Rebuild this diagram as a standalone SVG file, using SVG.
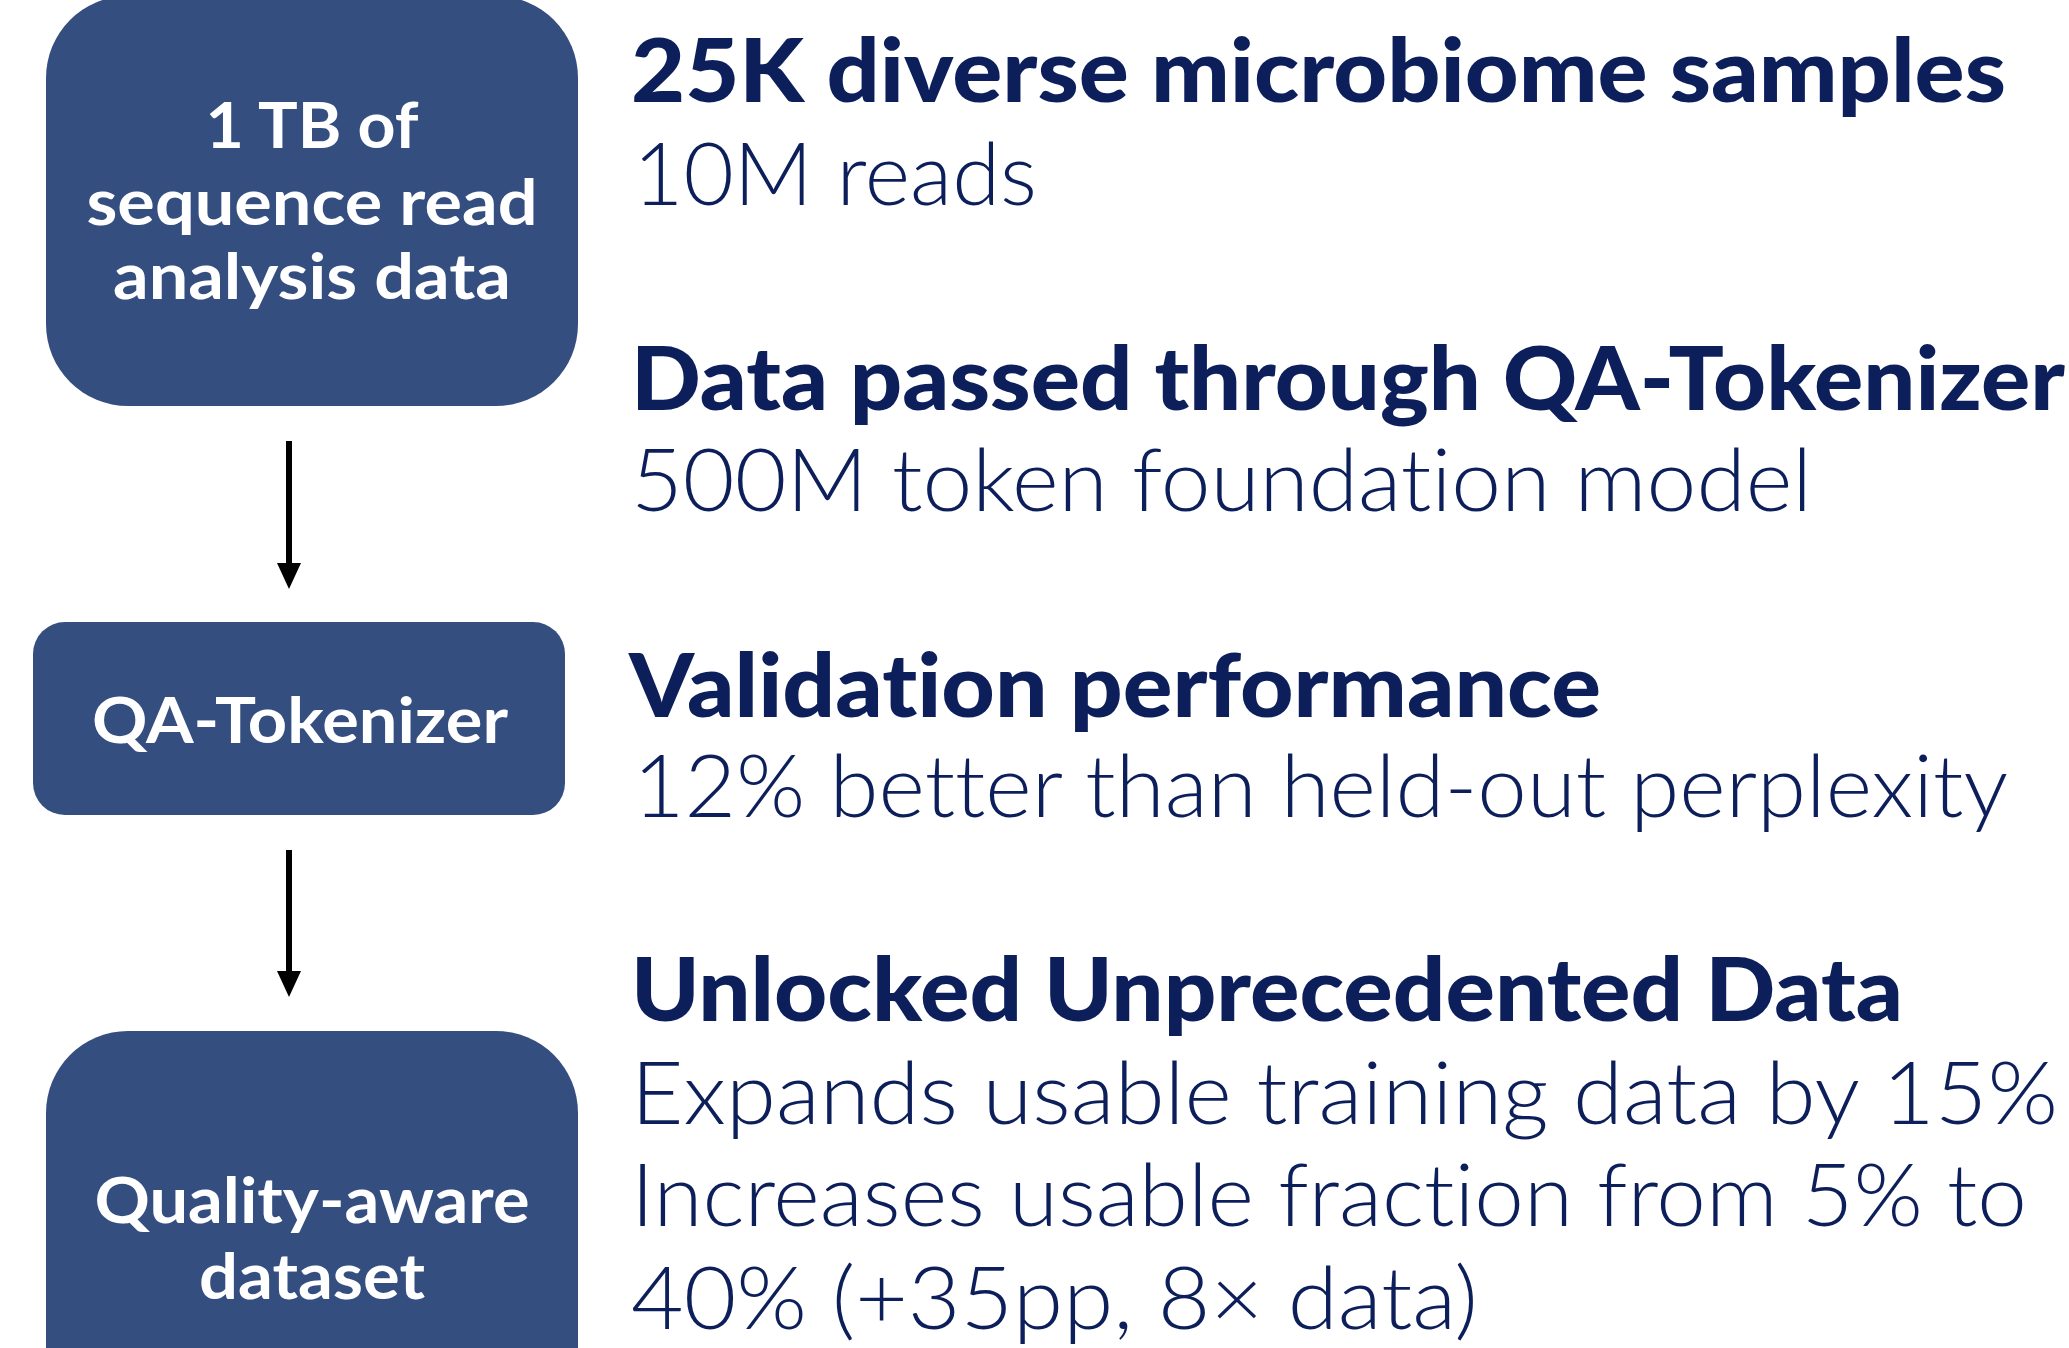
<svg xmlns="http://www.w3.org/2000/svg" width="2069" height="1348" viewBox="0 0 2069 1348">
  <style>
    text { font-variant-ligatures: none; font-feature-settings: "liga" 0, "clig" 0; }
    .box { fill: #344e80; }
    .boxtxt { fill: #ffffff; font-family: "Lato", "Open Sans", "Liberation Sans", sans-serif; font-weight: 700; font-size: 64px; text-anchor: middle; }
    .head { fill: #0c1f5b; font-family: "Lato", "Liberation Sans", sans-serif; font-weight: 900; font-size: 88px; }
    .sub { fill: #0c1f5b; font-family: "Lato", "Liberation Sans", sans-serif; font-weight: 300; font-size: 86px; }
    .conn { stroke: #000000; stroke-width: 6; fill: none; }
    .head-tip { fill: #000000; }
  </style>

  <rect width="2069" height="1348" fill="#ffffff"/>

  <!-- pipeline boxes -->
  <g id="node-raw-data">
    <rect class="box" x="46" y="-4" width="532" height="410" rx="82" ry="82"/>
    <text class="boxtxt" x="312" y="148" textLength="213" lengthAdjust="spacingAndGlyphs">1 TB of</text>
    <text class="boxtxt" x="312" y="225" textLength="451" lengthAdjust="spacingAndGlyphs">sequence read</text>
    <text class="boxtxt" x="312" y="299" textLength="398" lengthAdjust="spacingAndGlyphs">analysis data</text>
  </g>

  <g id="node-tokenizer">
    <rect class="box" x="33" y="622" width="532" height="193" rx="32" ry="32"/>
    <text class="boxtxt" x="300" y="743" textLength="416" lengthAdjust="spacingAndGlyphs">QA-Tokenizer</text>
  </g>

  <g id="node-dataset">
    <rect class="box" x="46" y="1031" width="532" height="420" rx="82" ry="82"/>
    <text class="boxtxt" x="312" y="1223" textLength="435" lengthAdjust="spacingAndGlyphs">Quality-aware</text>
    <text class="boxtxt" x="312" y="1299" textLength="226" lengthAdjust="spacingAndGlyphs">dataset</text>
  </g>

  <!-- connectors -->
  <g id="connectors">
    <path class="conn" d="M289,441 V566"/>
    <polygon class="head-tip" points="277,563 301,563 289,589"/>
    <path class="conn" d="M289,850 V974"/>
    <polygon class="head-tip" points="277,971 301,971 289,997"/>
  </g>

  <!-- key figures -->
  <g id="stat-samples">
    <text class="head" x="631" y="102" textLength="1375" lengthAdjust="spacingAndGlyphs">25K diverse microbiome samples</text>
    <text class="sub" x="633" y="205" textLength="404" lengthAdjust="spacingAndGlyphs">10M reads</text>
  </g>
  <g id="stat-tokenizer">
    <text class="head" x="631" y="410" textLength="1434" lengthAdjust="spacingAndGlyphs">Data passed through QA-Tokenizer</text>
    <text class="sub" x="631" y="511" textLength="1181" lengthAdjust="spacingAndGlyphs">500M token foundation model</text>
  </g>
  <g id="stat-validation">
    <text class="head" x="629" y="717" textLength="972" lengthAdjust="spacingAndGlyphs">Validation performance</text>
    <text class="sub" x="633" y="817" textLength="1375" lengthAdjust="spacingAndGlyphs">12% better than held-out perplexity</text>
  </g>
  <g id="stat-unlocked">
    <text class="head" x="631" y="1021" textLength="1272" lengthAdjust="spacingAndGlyphs">Unlocked Unprecedented Data</text>
    <text class="sub" x="631" y="1124" textLength="1427" lengthAdjust="spacingAndGlyphs">Expands usable training data by 15%</text>
    <text class="sub" x="631" y="1226" textLength="1396" lengthAdjust="spacingAndGlyphs">Increases usable fraction from 5% to</text>
    <text class="sub" x="631" y="1329" textLength="847" lengthAdjust="spacingAndGlyphs">40% (+35pp, 8× data)</text>
  </g>
</svg>
